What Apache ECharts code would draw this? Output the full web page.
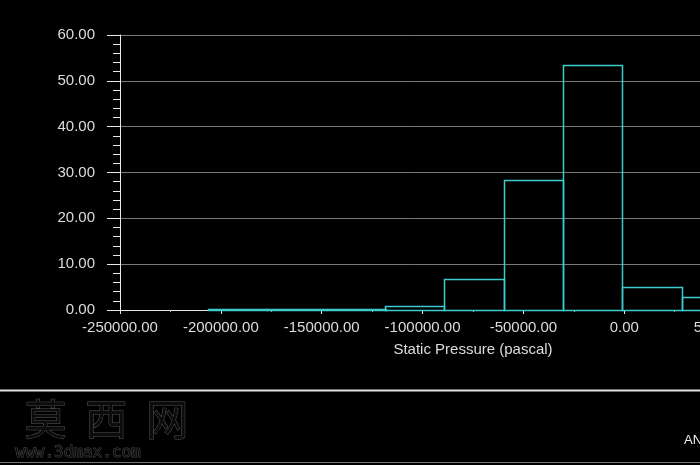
<!DOCTYPE html>
<html>
<head>
<meta charset="utf-8">
<script src="https://cdn.jsdelivr.net/npm/echarts@6/dist/echarts.min.js"></script>
<style>
  html, body { margin: 0; padding: 0; background: #000; }
  #chart { width: 700px; height: 465px; }
</style>
</head>
<body>
<div id="chart"></div>
<script>
// histogram bins (pascal) and percent of cells in each bin
const binStart = [-206300, -176900, -147500, -118400, -89300, -59800, -30400, -1000, 28500]
const binEnd = [-176900, -147500, -118400, -89300, -59800, -30400, -1000, 28500, 57900]
const percent = [0.15, 0.25, 0.3, 0.8, 6.7, 28.4, 53.4, 5.0, 2.8]

const xName = 'Static Pressure (pascal)'

const rows = binStart.map((s, i) => [s, binEnd[i], percent[i]])

const chart = echarts.init(document.getElementById('chart'))
const fontFamily = '"Liberation Sans", Arial, sans-serif'

const option = {
    backgroundColor: '#000',
    animation: false,
    grid: {
        left: 120,
        top: 35,
        right: -126,
        bottom: 155,
        outerBoundsMode: 'none',
        containLabel: false
    },
    xAxis: {
        type: 'value',
        min: -250000,
        max: 100000,
        interval: 50000,
        name: xName,
        nameLocation: 'middle',
        nameGap: 32,
        nameTextStyle: { color: '#dcdcdc', fontSize: 15, fontFamily },
        axisLine: { show: true, onZero: false, lineStyle: { color: '#e8e8e8', width: 1 } },
        axisTick: { show: true, length: 4, lineStyle: { color: '#e8e8e8' } },
        minorTick: { show: true, splitNumber: 2, length: 2, lineStyle: { color: '#aaa' } },
        splitLine: { show: false },
        axisLabel: {
            color: '#dcdcdc',
            fontSize: 15,
            fontFamily,
            margin: 10,
            showMinLabel: true,
            showMaxLabel: true,
            hideOverlap: false,
            formatter: v => v.toFixed(2)
        }
    },
    yAxis: {
        type: 'value',
        min: 0,
        max: 60,
        interval: 10,
        axisLine: { show: true, onZero: false, lineStyle: { color: '#e8e8e8', width: 1 } },
        axisTick: { show: true, length: 13, lineStyle: { color: '#e8e8e8' } },
        minorTick: { show: true, splitNumber: 5, length: 7, lineStyle: { color: '#e8e8e8' } },
        splitLine: { show: true, lineStyle: { color: '#7a7a7a', width: 1 } },
        axisLabel: {
            color: '#dcdcdc',
            fontSize: 15,
            fontFamily,
            margin: 25,
            formatter: v => v.toFixed(2)
        }
    },
    series: [
        {
            type: 'custom',
            data: rows,
            encode: { x: [0, 1], y: 2 },
            renderItem: (params, api) => {
                const p0 = api.coord([api.value(0), api.value(2)])
                const p1 = api.coord([api.value(1), 0])
                return {
                    type: 'rect',
                    shape: {
                        x: Math.round(p0[0]) + 0.5,
                        y: Math.round(p0[1]) + 0.5,
                        width: Math.round(p1[0] - p0[0]),
                        height: Math.round(p1[1] - p0[1])
                    },
                    style: { fill: 'none', stroke: '#3ecbcb', lineWidth: 1.5 }
                }
            }
        }
    ],
    graphic: [
        {
            type: 'line',
            shape: { x1: 0, y1: 390.5, x2: 700, y2: 390.5 },
            style: { stroke: '#e0e0e0', lineWidth: 2 }
        },
        {
            type: 'line',
            shape: { x1: 0, y1: 462.5, x2: 700, y2: 462.5 },
            style: { stroke: '#777', lineWidth: 1 }
        },
        {
            type: 'text',
            left: 24,
            top: 398,
            style: {
                text: '莫  西  网',
                font: '42px "Noto Sans CJK SC"',
                fill: '#0c0c0c',
                stroke: '#555',
                lineWidth: 1
            }
        },
        {
            type: 'text',
            left: 15,
            top: 444,
            style: {
                text: 'www.3dmax.com',
                font: '16px "DejaVu Sans Mono"',
                fill: '#0c0c0c',
                stroke: '#4a4a4a',
                lineWidth: 1
            }
        },
        {
            type: 'text',
            left: 684,
            top: 434,
            style: {
                text: 'ANSYS',
                font: '13px "Liberation Sans"',
                fill: '#f0f0f0'
            }
        }
    ]
}

chart.setOption(option)
</script>
</body>
</html>
